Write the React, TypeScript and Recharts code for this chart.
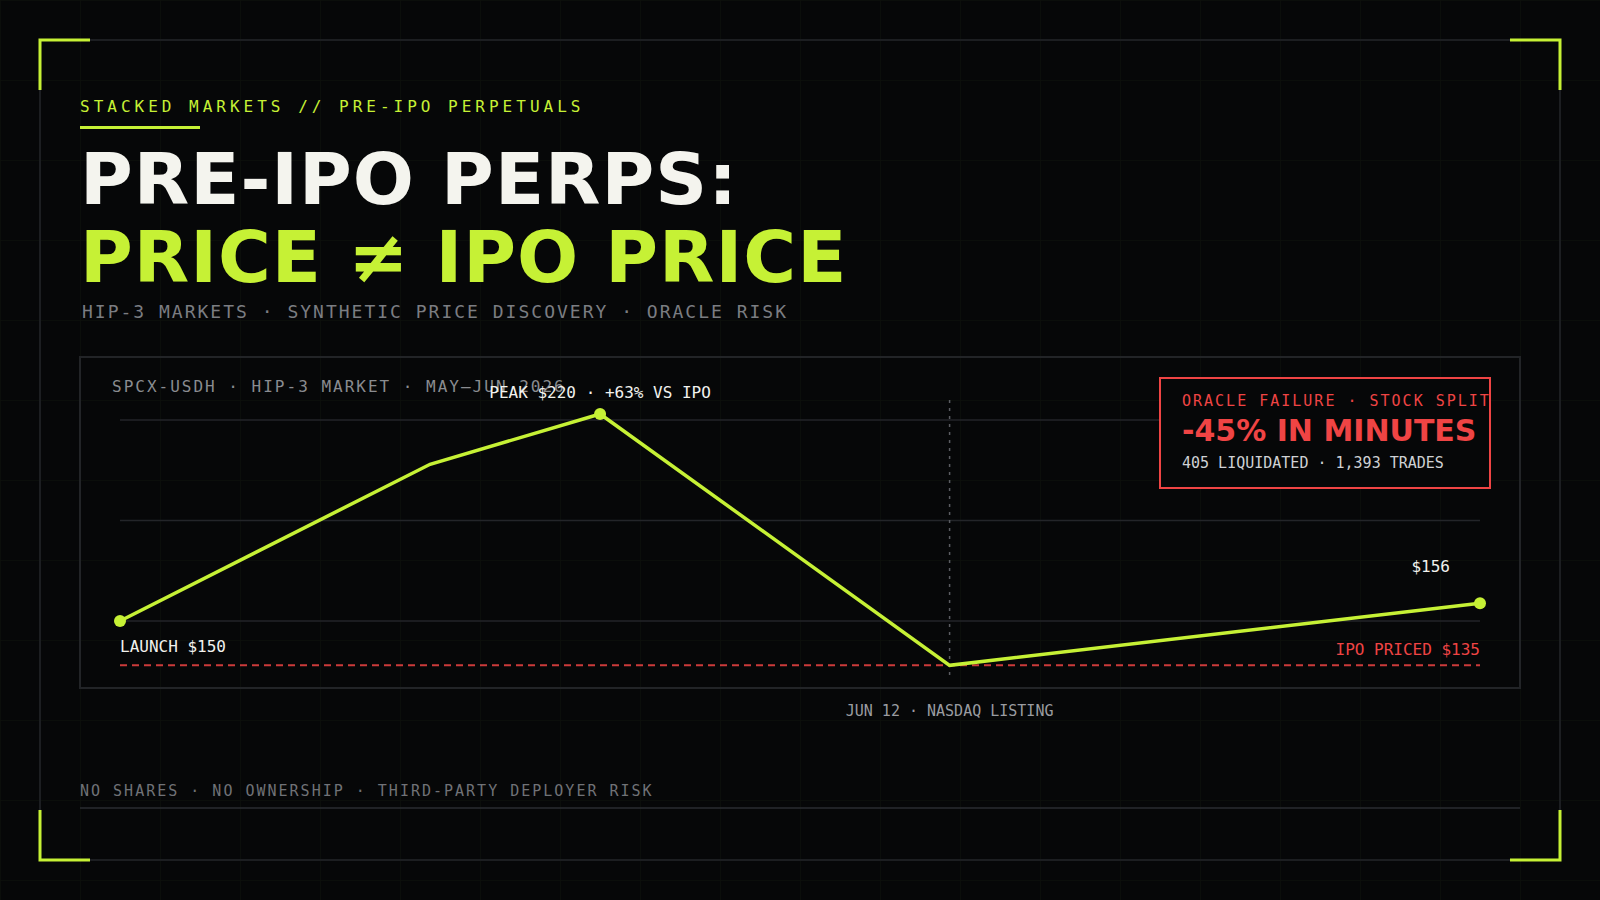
import {
  LineChart,
  Line,
  XAxis,
  YAxis,
  ReferenceLine,
  LabelList,
} from 'recharts';

// position along the May–Jun window (0 = launch, 100 = latest print)
const timeline = [0, 22.8, 35.3, 61.0, 100];
const prices = [150, 203, 220, 135, 156];
const pointLabels = ['LAUNCH $150', '', 'PEAK $220 · +63% VS IPO', '', '$156'];
const markedPoints = [true, false, true, false, true];

const gridValues = [150, 184, 218];
const ipoPrice = 135;
const listingT = 61.0;
const listingSpan = [131.7, 224.7];

const LIME = '#c6f135';
const RED = '#ef4444';
const BG = '#060708';
const MONO = '"DejaVu Sans Mono", monospace';
const SANS = '"DejaVu Sans", sans-serif';

const data = timeline.map((t, i) => ({
  t,
  price: prices[i],
  label: pointLabels[i],
  marked: markedPoints[i],
}));

// label placement relative to its point
const labelPlacement: Record<string, { dx: number; dy: number; anchor: 'start' | 'middle' | 'end' }> = {
  'LAUNCH $150': { dx: 0, dy: 31, anchor: 'start' },
  'PEAK $220 · +63% VS IPO': { dx: 0, dy: -16, anchor: 'middle' },
  $156: { dx: -30, dy: -31, anchor: 'end' },
};

function PointDot(props: any) {
  const { cx, cy, index, payload } = props;
  if (!payload?.marked) return <g key={`d-${index}`} />;
  return <circle key={`d-${index}`} cx={cx} cy={cy} r={6} fill={LIME} />;
}

function PointLabel(props: any) {
  const { value, index } = props;
  if (!value) return null;
  const x = props.x ?? props.viewBox?.x;
  const y = props.y ?? props.viewBox?.y;
  const p = labelPlacement[value];
  if (!p) return null;
  return (
    <text
      key={`l-${index}`}
      x={x + p.dx}
      y={y + p.dy}
      textAnchor={p.anchor}
      fill="#f2f2ee"
      fontFamily={MONO}
      fontSize={16}
    >
      {value}
    </text>
  );
}

function Backdrop() {
  return (
    <svg width={1600} height={900} style={{ position: 'absolute', left: 0, top: 0 }}>
      <defs>
        <pattern id="bggrid" width={80} height={80} patternUnits="userSpaceOnUse">
          <path d="M 80 0 L 0 0 0 80" fill="none" stroke="#0d100b" strokeWidth={1.5} />
        </pattern>
      </defs>
      <rect width={1600} height={900} fill={BG} />
      <rect width={1600} height={900} fill="url(#bggrid)" />
      <rect x={40} y={40} width={1520} height={820} fill="none" stroke="#1c1e21" strokeWidth={2} />
      <g stroke={LIME} strokeWidth={3} fill="none">
        <path d="M40 90 L40 40 L90 40" />
        <path d="M1510 40 L1560 40 L1560 90" />
        <path d="M40 810 L40 860 L90 860" />
        <path d="M1510 860 L1560 860 L1560 810" />
      </g>

      <text x={80} y={112} fill={LIME} fontFamily={MONO} fontSize={16} letterSpacing={4}>
        STACKED MARKETS // PRE-IPO PERPETUALS
      </text>
      <rect x={80} y={126} width={120} height={3} fill={LIME} />

      <text x={80} y={204} fill="#f4f4ee" fontFamily={SANS} fontWeight="bold" fontSize={72} letterSpacing={1}>
        PRE-IPO PERPS:
      </text>
      <text x={80} y={282} fill={LIME} fontFamily={SANS} fontWeight="bold" fontSize={72} letterSpacing={1}>
        PRICE ≠ IPO PRICE
      </text>
      <text x={82} y={318} fill="#7b7d82" fontFamily={MONO} fontSize={18} letterSpacing={2}>
        HIP-3 MARKETS · SYNTHETIC PRICE DISCOVERY · ORACLE RISK
      </text>

      <rect x={80} y={357} width={1440} height={331} fill="none" stroke="#222427" strokeWidth={2} />
      <text x={112} y={392} fill="#8a8c90" fontFamily={MONO} fontSize={16} letterSpacing={2}>
        SPCX-USDH · HIP-3 MARKET · MAY–JUN 2026
      </text>

      <text x={80} y={796} fill="#707277" fontFamily={MONO} fontSize={15} letterSpacing={2}>
        NO SHARES · NO OWNERSHIP · THIRD-PARTY DEPLOYER RISK
      </text>
      <line x1={80} x2={1520} y1={808} y2={808} stroke="#2a2c30" strokeWidth={1.5} />
    </svg>
  );
}

function OracleCallout() {
  return (
    <svg width={1600} height={900} style={{ position: 'absolute', left: 0, top: 0, pointerEvents: 'none' }}>
      <rect x={1160} y={378} width={330} height={110} fill={BG} stroke={RED} strokeWidth={2} />
      <text x={1182} y={406} fill={RED} fontFamily={MONO} fontSize={15} letterSpacing={2}>
        ORACLE FAILURE · STOCK SPLIT
      </text>
      <text x={1182} y={441} fill={RED} fontFamily={SANS} fontWeight="bold" fontSize={30}>
        -45% IN MINUTES
      </text>
      <text x={1182} y={468} fill="#cfd1d4" fontFamily={MONO} fontSize={15}>
        405 LIQUIDATED · 1,393 TRADES
      </text>
    </svg>
  );
}

export default function App() {
  return (
    <div style={{ position: 'relative', width: 1600, height: 900, background: BG, overflow: 'hidden' }}>
      <style>{'body{margin:0;background:#060708}'}</style>
      <Backdrop />
      <div style={{ position: 'absolute', left: 0, top: 0 }}>
        <LineChart
          width={1600}
          height={900}
          data={data}
          margin={{ top: 384.43, right: 120, bottom: 219.86, left: 120 }}
        >
          <XAxis dataKey="t" type="number" domain={[0, 100]} hide />
          <YAxis type="number" domain={[130, 230]} hide />
          {gridValues.map((v) => (
            <ReferenceLine key={v} y={v} stroke="#232529" strokeWidth={1.5} />
          ))}
          <ReferenceLine
            y={ipoPrice}
            stroke={RED}
            strokeOpacity={0.85}
            strokeWidth={2}
            strokeDasharray="7 5"
            label={(p: any) => {
              const vb = p.viewBox || {};
              return (
                <text
                  x={vb.x + vb.width}
                  y={vb.y - 10}
                  textAnchor="end"
                  fill={RED}
                  fontFamily={MONO}
                  fontSize={16}
                >
                  IPO PRICED ${ipoPrice}
                </text>
              );
            }}
          />
          <ReferenceLine
            segment={[
              { x: listingT, y: listingSpan[1] },
              { x: listingT, y: listingSpan[0] },
            ]}
            stroke="#5a5c61"
            strokeWidth={1.5}
            strokeDasharray="3 5"
            label={(p: any) => {
              const vb = p.viewBox || {};
              return (
                <text
                  x={vb.x}
                  y={716}
                  textAnchor="middle"
                  fill="#9a9ca1"
                  fontFamily={MONO}
                  fontSize={15}
                >
                  JUN 12 · NASDAQ LISTING
                </text>
              );
            }}
          />
          <Line
            type="linear"
            dataKey="price"
            stroke={LIME}
            strokeWidth={3.5}
            dot={PointDot}
            activeDot={false}
            isAnimationActive={false}
          >
            <LabelList dataKey="label" content={PointLabel} />
          </Line>
        </LineChart>
      </div>
      <OracleCallout />
    </div>
  );
}
